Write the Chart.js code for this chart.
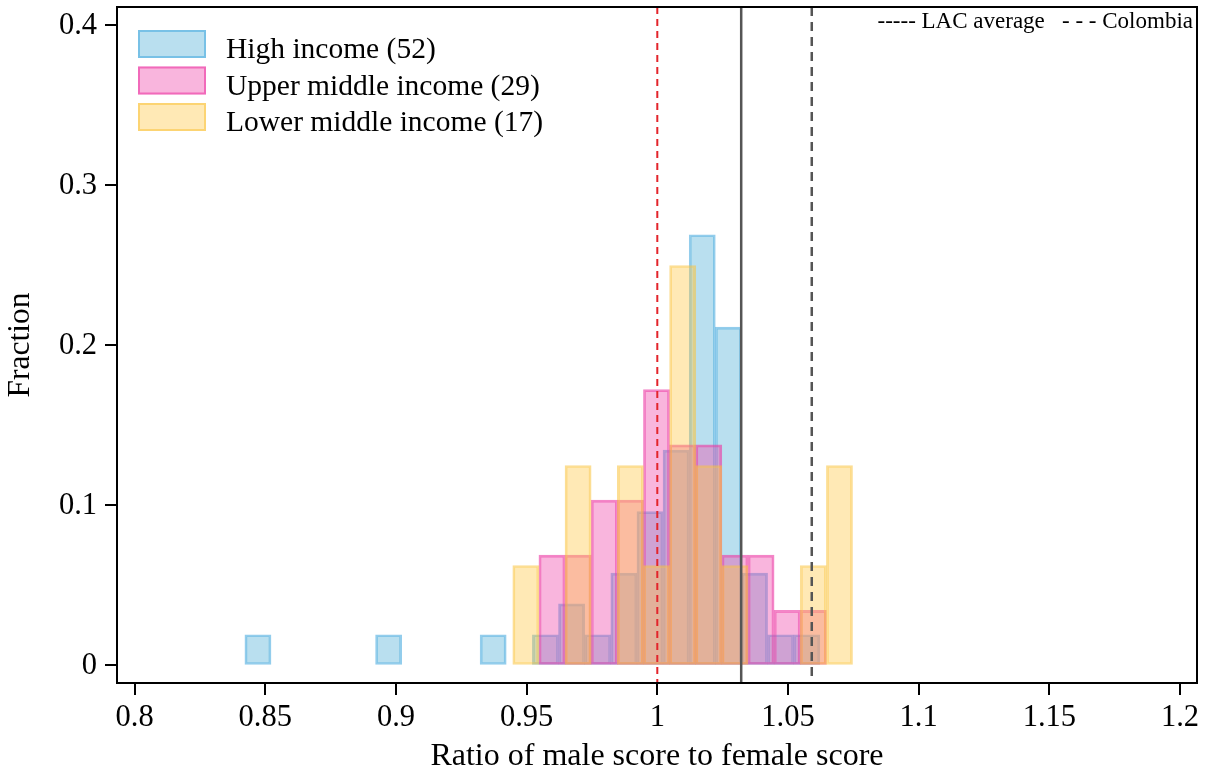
<!DOCTYPE html>
<html>
<head>
<meta charset="utf-8">
<title>Gender score ratio histogram</title>
<script src="https://cdn.jsdelivr.net/npm/chart.js@4/dist/chart.umd.min.js"></script>
<style>
  html, body { margin: 0; padding: 0; background: #fff; }
  #wrap { width: 1207px; height: 776px; }
</style>
</head>
<body>
<div id="wrap"><canvas id="chart_ratio" width="1207" height="776"></canvas></div>
<script>
/* Histogram of male/female score ratio by income group */

// bin centres and fractions per income group (bin width 0.01)
var highCenters = [0.8472, 0.8972, 0.9372, 0.9572, 0.9672, 0.9772, 0.9872, 0.9972, 1.0072, 1.0172, 1.0272, 1.0372, 1.0472, 1.0572];
var highFrac    = [0.0192, 0.0192, 0.0192, 0.0192, 0.0385, 0.0192, 0.0577, 0.0962, 0.1346, 0.2692, 0.2115, 0.0577, 0.0192, 0.0192];

var upperCenters = [0.9597, 0.9697, 0.9797, 0.9897, 0.9997, 1.0097, 1.0197, 1.0297, 1.0397, 1.0497, 1.0597];
var upperFrac    = [0.0690, 0.0690, 0.1034, 0.1034, 0.1724, 0.1379, 0.1379, 0.0690, 0.0690, 0.0345, 0.0345];

var lowerCenters = [0.9497, 0.9697, 0.9897, 0.9997, 1.0097, 1.0197, 1.0297, 1.0597, 1.0697];
var lowerFrac    = [0.0625, 0.125, 0.125, 0.0625, 0.25, 0.125, 0.0625, 0.0625, 0.125];

var groupLabels = ["High income (52)", "Upper middle income (29)", "Lower middle income (17)"];

// reference lines
var parityValue = 1.0;
var lacAverage = 1.0321;
var colombiaValue = 1.0591;

var xTickStep = 0.05;
var yTickStep = 0.1;

(function () {
    "use strict";

    var serif = "'Liberation Serif', 'Times New Roman', serif";
    Chart.defaults.font.family = serif;
    Chart.defaults.color = "#000";

    function points(xs, ys) {
        return xs.map(function (x, i) { return { x: x, y: ys[i] }; });
    }

    var xMin = 0.79327, xMax = 1.2065;
    var yMin = -0.01094, yMax = 0.41156;

    function hiddenX() {
        return { type: "linear", display: false, offset: false, min: xMin, max: xMax,
                 ticks: { stepSize: xTickStep, includeBounds: false } };
    }

    var refLines = {
        id: "refLines",
        afterDatasetsDraw: function (chart) {
            var ctx = chart.ctx, a = chart.chartArea, xs = chart.scales.x;
            function vline(v, color, width, dash) {
                var px = xs.getPixelForValue(v);
                ctx.save();
                ctx.strokeStyle = color;
                ctx.lineWidth = width;
                ctx.setLineDash(dash);
                ctx.beginPath();
                ctx.moveTo(px, a.top);
                ctx.lineTo(px, a.bottom);
                ctx.stroke();
                ctx.restore();
            }
            vline(parityValue, "#e3242b", 2, [7, 5]);
            vline(lacAverage, "#555555", 2.5, []);
            vline(colombiaValue, "#555555", 2.5, [9, 6]);
        },
        afterDraw: function (chart) {
            var ctx = chart.ctx, a = chart.chartArea;
            ctx.save();
            // plot frame
            ctx.strokeStyle = "#000";
            ctx.lineWidth = 2;
            ctx.strokeRect(a.left, a.top, a.right - a.left, a.bottom - a.top);

            // income group key, top left
            var ds = chart.data.datasets;
            ctx.font = "29.5px " + serif;
            ctx.textBaseline = "alphabetic";
            ctx.textAlign = "left";
            for (var i = 0; i < 3; i++) {
                var top = 30 + i * 36.5;
                ctx.fillStyle = "#fff";
                ctx.fillRect(138, top, 68, 28);
                ctx.fillStyle = ds[i].backgroundColor;
                ctx.fillRect(138, top, 68, 28);
                ctx.strokeStyle = ds[i].borderColor;
                ctx.lineWidth = 2;
                ctx.strokeRect(139, top + 1, 66, 26);
                ctx.fillStyle = "#000";
                ctx.fillText(ds[i].label, 226, top + 28);
            }

            // line key, top right
            ctx.font = "23px " + serif;
            ctx.textAlign = "right";
            ctx.fillText("----- LAC average   - - - Colombia", 1193, 28);
            ctx.restore();
        }
    };

    var tickGrid = { offset: false, drawOnChartArea: false, drawTicks: true, tickLength: 12, color: "#000", lineWidth: 2 };

    var ctx = document.getElementById("chart_ratio").getContext("2d");
    var histChart = new Chart(ctx, {
        type: "bar",
        data: {
            datasets: [
                {
                    label: groupLabels[0],
                    data: points(highCenters, highFrac),
                    xAxisID: "x",
                    backgroundColor: "rgba(80,175,215,0.4)",
                    borderColor: "rgba(80,175,225,0.62)",
                    order: 2
                },
                {
                    label: groupLabels[1],
                    data: points(upperCenters, upperFrac),
                    xAxisID: "x2",
                    backgroundColor: "rgba(240,70,170,0.4)",
                    borderColor: "rgba(236,60,165,0.62)",
                    order: 1
                },
                {
                    label: groupLabels[2],
                    data: points(lowerCenters, lowerFrac),
                    xAxisID: "x3",
                    backgroundColor: "rgba(255,200,70,0.4)",
                    borderColor: "rgba(250,195,60,0.55)",
                    order: 0
                }
            ]
        },
        options: {
            responsive: false,
            animation: false,
            events: [],
            layout: { padding: { left: 0, right: 10, top: 7, bottom: 0 } },
            datasets: {
                bar: {
                    barPercentage: 1,
                    categoryPercentage: 1,
                    grouped: false,
                    borderWidth: 2,
                    borderSkipped: false
                }
            },
            plugins: {
                legend: { display: false },
                tooltip: { enabled: false }
            },
            scales: {
                x: {
                    type: "linear",
                    offset: false,
                    min: xMin,
                    max: xMax,
                    afterFit: function (s) { s.height = 93; s.paddingLeft = 0; s.paddingRight = 0; },
                    border: { display: true, color: "#000", width: 2 },
                    grid: tickGrid,
                    ticks: {
                        stepSize: xTickStep,
                        includeBounds: false,
                        autoSkip: false,
                        maxRotation: 0,
                        padding: 5,
                        font: { size: 30.5 },
                        callback: function (v) { return +v.toFixed(2); }
                    },
                    title: {
                        display: true,
                        text: "Ratio of male score to female score",
                        font: { size: 32 },
                        padding: { top: 0, bottom: 0 }
                    }
                },
                x2: hiddenX(),
                x3: hiddenX(),
                y: {
                    type: "linear",
                    min: yMin,
                    max: yMax,
                    afterFit: function (s) { s.width = 117; s.paddingTop = 0; s.paddingBottom = 0; },
                    border: { display: true, color: "#000", width: 2 },
                    grid: tickGrid,
                    ticks: {
                        stepSize: yTickStep,
                        includeBounds: false,
                        padding: 8,
                        font: { size: 30.5 },
                        callback: function (v) { return +v.toFixed(1); }
                    },
                    title: {
                        display: true,
                        text: "Fraction",
                        font: { size: 31.5 },
                        padding: { top: 2, bottom: 0 }
                    }
                }
            }
        },
        plugins: [refLines]
    });
})();
</script>
</body>
</html>
